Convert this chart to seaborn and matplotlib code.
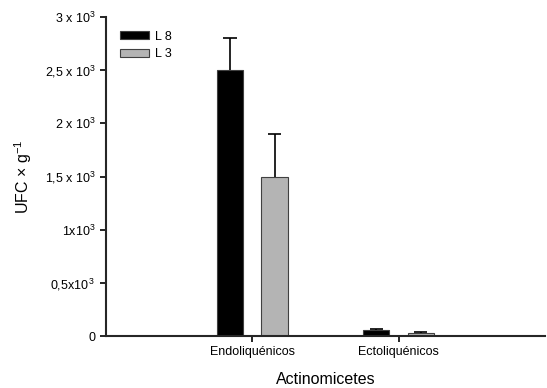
import pandas as pd
import numpy as np
import matplotlib
matplotlib.use("Agg")
import matplotlib.pyplot as plt
import seaborn as sns

categories = ["Endoliquénicos", "Ectoliquénicos"]
groups = ["L 8", "L 3"]
l8_values = [2500, 60]
l3_values = [1500, 30]
l8_err = [300, 10]
l3_err = [400, 6]

df = pd.DataFrame({
    "tipo": categories * 2,
    "grupo": [groups[0]] * 2 + [groups[1]] * 2,
    "ufc": l8_values + l3_values,
})
errs = l8_err + l3_err

sns.set_style("ticks")
plt.rcParams['font.family'] = ['Liberation Sans', 'DejaVu Sans']
plt.rcParams['mathtext.fontset'] = 'custom'
plt.rcParams['mathtext.rm'] = 'Liberation Sans'
plt.rcParams['mathtext.it'] = 'Liberation Sans:italic'
plt.rcParams['text.color'] = 'black'
plt.rcParams['axes.labelcolor'] = 'black'
plt.rcParams['xtick.color'] = 'black'
plt.rcParams['ytick.color'] = 'black'

fig = plt.figure(figsize=(5.47, 3.88), dpi=100)
ax = fig.add_axes([0.194, 0.134, 0.802, 0.822])

sns.barplot(data=df, x="tipo", y="ufc", hue="grupo", order=categories,
            hue_order=groups, palette=["#000000", "#b4b4b4"],
            width=0.61, gap=0.41, errorbar=None, ax=ax,
            edgecolor="#404040", linewidth=0.8)

# upper error bars, placed on the drawn bars
for patch, e in zip(ax.patches[:4], errs):
    xc = patch.get_x() + patch.get_width() / 2
    h = patch.get_height()
    ax.vlines(xc, h, h + e, color="black", lw=1.2)
    ax.hlines(h + e, xc - 0.045, xc + 0.045, color="black", lw=1.2)

ax.set_xlim(-1, 2)
ax.set_ylim(0, 3000)
ax.set_yticks([0, 500, 1000, 1500, 2000, 2500, 3000])
ax.set_yticklabels(["0", "0,5x10$^{\\,3}$", "1x10$^{3}$", "1,5 x 10$^{3}$",
                    "2 x 10$^{3}$", "2,5 x 10$^{3}$", "3 x 10$^{3}$"])
ax.tick_params(axis="both", labelsize=9, length=4, width=1.2, direction="out")
ax.set_xlabel("Actinomicetes", fontsize=11.5, labelpad=10)
ax.set_ylabel("UFC × g$^{-1}$", fontsize=11.5, labelpad=8)
sns.despine(ax=ax)
for s in ["left", "bottom"]:
    ax.spines[s].set_linewidth(1.5)

leg = ax.legend(loc="upper left", frameon=False, fontsize=9,
                handlelength=2.3, handleheight=0.6, borderaxespad=0.7,
                labelspacing=0.45, handletextpad=0.5)
leg.set_title(None)

fig.savefig("out.png", dpi=100)
